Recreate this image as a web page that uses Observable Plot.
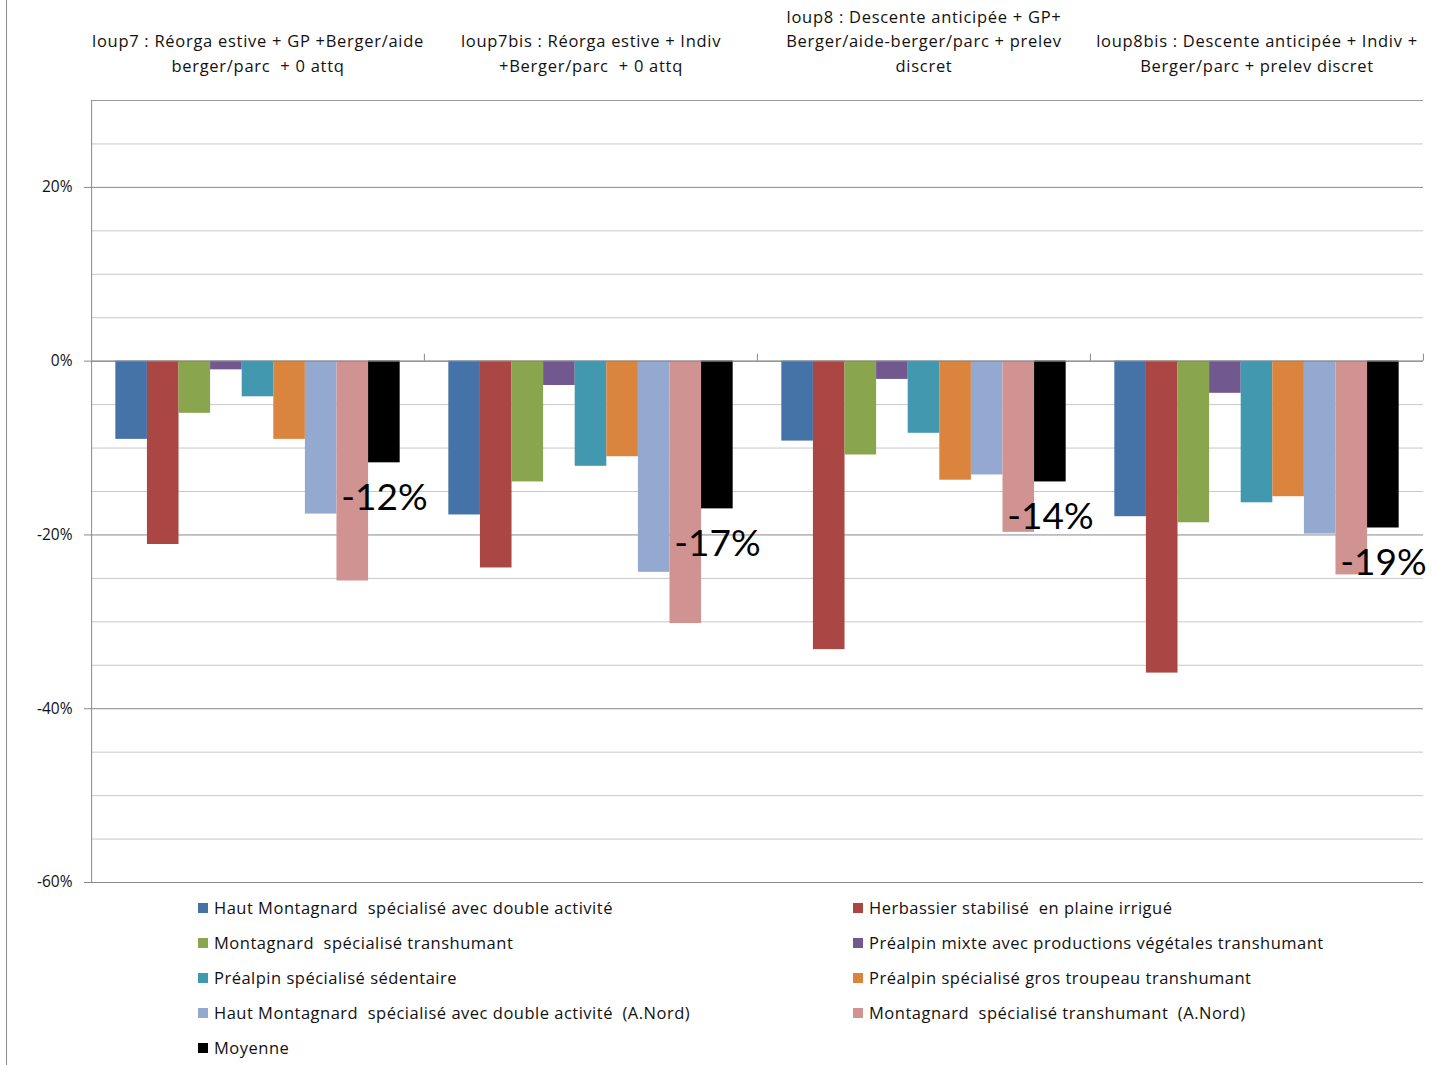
<!DOCTYPE html>
<html><head><meta charset="utf-8">
<script src="https://cdn.jsdelivr.net/npm/d3@7"></script>
<script src="https://cdn.jsdelivr.net/npm/@observablehq/plot@0.6"></script>
<style>
body{margin:0;background:#fff;font-family:"Open Sans", Lato, sans-serif;}
#wrap{position:relative;width:1432px;height:1065px;overflow:hidden;}
#border{position:absolute;left:6px;top:0;width:1px;height:1065px;background:#8c8c8c;}
#chart{height:900px;}
#legend{display:grid;grid-template-columns:655px 575px;margin-left:198px;margin-top:-10px;font-size:16.5px;letter-spacing:0.5px;color:#111;}
.item{height:35px;display:flex;align-items:center;white-space:pre;}
.sw{width:10px;height:10px;margin-right:6px;flex:none;}
</style></head><body>
<div id="wrap"><div id="border"></div><div id="chart"></div><div id="legend"></div></div>
<script>
const scenarios = ["loup7", "loup7bis", "loup8", "loup8bis"];
const scenarioTitles = [
  "loup7 : Réorga estive + GP +Berger/aide\nberger/parc  + 0 attq",
  "loup7bis : Réorga estive + Indiv\n+Berger/parc  + 0 attq",
  "loup8 : Descente anticipée + GP+\nBerger/aide-berger/parc + prelev\ndiscret",
  "loup8bis : Descente anticipée + Indiv +\nBerger/parc + prelev discret"
];
const series = [
  "Haut Montagnard  spécialisé avec double activité",
  "Herbassier stabilisé  en plaine irrigué",
  "Montagnard  spécialisé transhumant",
  "Préalpin mixte avec productions végétales transhumant",
  "Préalpin spécialisé sédentaire",
  "Préalpin spécialisé gros troupeau transhumant",
  "Haut Montagnard  spécialisé avec double activité  (A.Nord)",
  "Montagnard  spécialisé transhumant  (A.Nord)",
  "Moyenne"
];
const colors = ["#4572A7", "#AA4643", "#89A54E", "#71588F", "#4198AF", "#DB843D", "#93A9CF", "#D19392", "#000000"];
const loup7    = [-9.0, -21.1, -6.0, -1.0, -4.1, -9.0, -17.6, -25.3, -11.7];
const loup7bis = [-17.7, -23.8, -13.9, -2.8, -12.1, -11.0, -24.3, -30.2, -17.0];
const loup8    = [-9.2, -33.2, -10.8, -2.1, -8.3, -13.7, -13.1, -19.7, -13.9];
const loup8bis = [-17.9, -35.9, -18.6, -3.7, -16.3, -15.6, -19.9, -24.6, -19.2];
const averageLabels = ["-12%", "-17%", "-14%", "-19%"];
const majorTicks = [20, 0, -20, -40, -60];
const minorGrid = [25, 15, 10, 5, -5, -10, -15, -25, -30, -35, -45, -50, -55];
const yDomain = [-60, 30];

const byScenario = [loup7, loup7bis, loup8, loup8bis];
const data = scenarios.flatMap((s, i) => series.map((k, j) => ({scenario: s, series: k, value: byScenario[i][j]})));
const titles = scenarios.map((s, i) => ({scenario: s, title: scenarioTitles[i]}));
const avgData = scenarios.map((s, i) => ({scenario: s, series: series[8], value: byScenario[i][8], label: averageLabels[i]}));
const leftEdge = [{scenario: scenarios[0], series: series[0]}];

const chart = Plot.plot({
  width: 1432, height: 900,
  marginLeft: 91, marginRight: 9, marginTop: 100, marginBottom: 18,
  style: {fontFamily: "'Open Sans', Lato, sans-serif", fontSize: "16px", color: "black", background: "white"},
  fx: {domain: scenarios, padding: 0, axis: null},
  x: {domain: series, paddingInner: 0, paddingOuter: 0.77, round: false, axis: null},
  y: {domain: yDomain},
  color: {domain: series, range: colors},
  marks: [
    Plot.gridY(minorGrid, {stroke: "#c8c8c8", strokeOpacity: 1}),
    Plot.gridY(majorTicks, {stroke: "#888888", strokeOpacity: 1}),
    Plot.ruleY([yDomain[1]], {stroke: "#999999"}),
    Plot.axisY({ticks: majorTicks, tickFormat: d => `${d}%`, tickSize: 7, tickPadding: 12, stroke: "#888888", fill: "#111", fontSize: 15.5, label: null}),
    Plot.ruleX(leftEdge, {fx: "scenario", x: "series", y1: yDomain[0], y2: yDomain[1], dx: -40, stroke: "#888888"}),
    Plot.barY(data, {fx: "scenario", x: "series", y: "value", fill: "series"}),
    Plot.ruleY([0], {stroke: "#888888"}),
    Plot.ruleX(avgData, {fx: "scenario", x: "series", y1: 0, y2: 0, insetBottom: 7, dx: 40, stroke: "#888888"}),
    Plot.text(titles, {fx: "scenario", text: "title", frameAnchor: "top", dy: -29, lineAnchor: "bottom", lineHeight: 1.47, fontSize: 16.5, fill: "#111"}),
    Plot.text(avgData, {fx: "scenario", x: "series", y: "value", text: "label", dy: 35, fontSize: 37, fontFamily: "Lato, sans-serif", fill: "#000"})
  ]
});
chart.querySelectorAll("text").forEach(t => {
  if (t.textContent.startsWith("loup")) t.style.letterSpacing = "0.72px";
});
document.getElementById("chart").appendChild(chart);

const legend = document.getElementById("legend");
series.forEach((s, i) => {
  const it = document.createElement("div");
  it.className = "item";
  const sw = document.createElement("span");
  sw.className = "sw";
  sw.style.background = colors[i];
  it.appendChild(sw);
  it.appendChild(document.createTextNode(s));
  legend.appendChild(it);
});
</script>
</body></html>
